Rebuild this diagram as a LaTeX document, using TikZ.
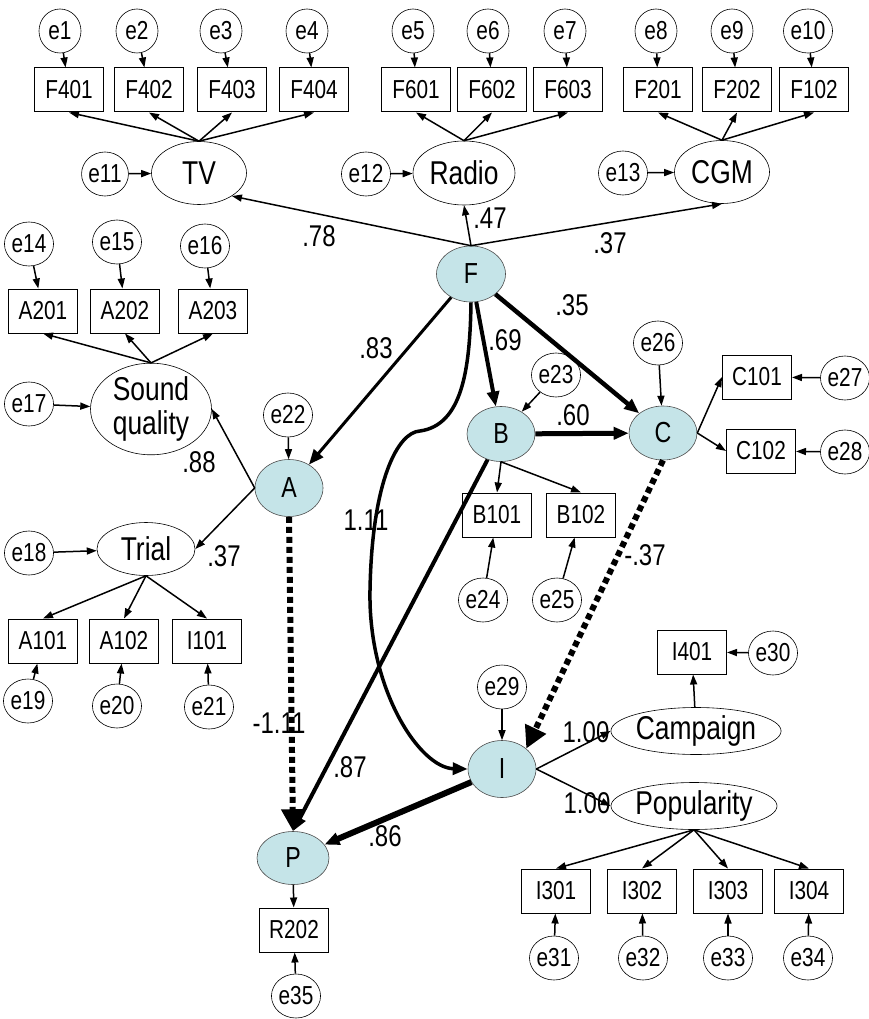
\documentclass[tikz,border=0pt]{standalone}
\usepackage{fontspec}
\setmainfont{Liberation Sans}[FakeStretch=0.8]
\usetikzlibrary{shapes.geometric,arrows.meta,calc}
\definecolor{latblue}{RGB}{197,228,232}
\begin{document}
\begin{tikzpicture}[x=1pt,y=-1pt,
  err/.style={ellipse,draw,line width=0.6pt,minimum width=42pt,minimum height=44pt,inner sep=0pt,font=\fontsize{26}{26}\selectfont},
  obs/.style={rectangle,draw,line width=1pt,minimum width=69pt,minimum height=44pt,inner sep=0pt,font=\fontsize{26}{26}\selectfont},
  lv/.style 2 args={ellipse,draw,line width=0.6pt,minimum width=#1,minimum height=#2,inner sep=0pt,align=center,font=\fontsize{33}{33}\selectfont},
  st/.style 2 args={ellipse,draw=black!70,fill=latblue,line width=0.6pt,minimum width=#1,minimum height=#2,inner sep=0pt,font=\fontsize{29}{29}\selectfont},
  lab/.style={font=\fontsize{30}{30}\selectfont,inner sep=0pt},
  arr/.style={line width=1.5pt,-{Triangle[length=10pt,width=7pt]}},
  thk/.style={line width=#1,-{Triangle[length=15pt,width=12pt]}},
  dsh/.style={line width=6pt,dash pattern=on 6pt off 4pt,-{Triangle[length=22pt,width=22pt]}}
]
\useasboundingbox (0,0) rectangle (868,1019);

% top error terms
\foreach \n/\x in {1/60,2/137,3/221,4/307,5/413,6/488,7/565,8/656,9/732,10/808}
  \node[err] (e\n) at (\x,31) {e\n};
% top indicators
\foreach \n/\x in {F401/69,F402/149,F403/232,F404/314,F601/416,F602/492,F603/568,F201/658,F202/737,F102/814}
  \node[obs] (\n) at (\x,90) {\n};

\node[lv={95pt}{63pt}] (TV) at (199,173) {TV};
\node[lv={102pt}{64pt}] (Radio) at (464,173) {Radio};
\node[lv={95pt}{63pt}] (CGM) at (722,172) {CGM};
\node[err] (e11) at (105,174) {e11};
\node[err] (e12) at (366,174) {e12};
\node[err] (e13) at (623,173) {e13};

\node[st={69pt}{56pt}] (F) at (471,274) {F};

\node[err] (e14) at (29,244) {e14};
\node[err] (e15) at (117,242) {e15};
\node[err] (e16) at (205,246) {e16};
\node[obs] (A201) at (43,311) {A201};
\node[obs] (A202) at (125,311) {A202};
\node[obs] (A203) at (213,311) {A203};

\node[err] (e26) at (658,343) {e26};
\node[err] (e23) at (556,375) {e23};
\node[obs] (C101) at (757,377) {C101};
\node[obs] (C102) at (761,451) {C102};
\node[err] (e27) at (845,378) {e27};
\node[err] (e28) at (845,452) {e28};

\node[lv={121pt}{72pt},font=\fontsize{33}{34}\selectfont] (SQ) at (151,409) {Sound\\quality};
\node[err] (e17) at (29,404) {e17};
\node[err] (e22) at (288,415) {e22};

\node[st={68pt}{55pt}] (B) at (501,434) {B};
\node[st={68pt}{54pt}] (C) at (663,433) {C};
\node[st={68pt}{57pt}] (A) at (289,488) {A};

\node[obs] (B101) at (497,515) {B101};
\node[obs] (B102) at (581,515) {B102};

\node[lv={98pt}{53pt}] (Trial) at (146,549) {Trial};
\node[err] (e18) at (29,553) {e18};

\node[err] (e24) at (483,600) {e24};
\node[err] (e25) at (557,600) {e25};

\node[obs] (A101) at (43,641) {A101};
\node[obs] (A102) at (124,641) {A102};
\node[obs] (I101) at (207,641) {I101};
\node[err] (e19) at (28,701) {e19};
\node[err] (e20) at (117,706) {e20};
\node[err] (e21) at (209,707) {e21};

\node[obs] (I401) at (692,652) {I401};
\node[err] (e30) at (773,653) {e30};
\node[err] (e29) at (502,687) {e29};

\node[lv={132pt}{47pt}] (Camp) at (696,731) {Campaign};
\node[st={68pt}{57pt}] (I) at (502,769) {I};
\node[lv={132pt}{47pt}] (Pop) at (694,806) {Popularity};
\node[st={72pt}{53pt}] (P) at (293,858) {P};

\foreach \n/\x in {1/556,2/642,3/728,4/809}
  \node[obs] (I30\n) at (\x,891) {I30\n};
\foreach \n/\x in {31/554,32/643,33/728,34/808}
  \node[err] (e\n) at (\x,958) {e\n};
\node[obs] (R202) at (294,930) {R202};
\node[err] (e35) at (296,996) {e35};

% labels
\node[lab] (l78) at (319,236) {.78};
\node[lab] (l47) at (490,218) {.47};
\node[lab] (l37a) at (610,243) {.37};
\node[lab] (l35) at (572,305) {.35};
\node[lab] (l83) at (376,348) {.83};
\node[lab] (l69) at (505,340) {.69};
\node[lab] (l60) at (573,415) {.60};
\node[lab] (l88) at (199,462) {.88};
\node[lab] (l37b) at (224,556) {.37};
\node[lab] (l111) at (366,520) {1.11};
\node[lab] (lm37) at (645,555) {-.37};
\node[lab] (lm111) at (279,723) {-1.11};
\node[lab] (l100a) at (586,732) {1.00};
\node[lab] (l87) at (350,767) {.87};
\node[lab] (l100b) at (587,803) {1.00};
\node[lab] (l86) at (385,836) {.86};

% error arrows top
\foreach \e/\b in {e1/F401,e2/F402,e3/F403,e4/F404,e5/F601,e6/F602,e7/F603,e8/F201,e9/F202,e10/F102}
  \draw[arr] (\e) -- (\b);
\foreach \b in {F401,F402,F403,F404} \draw[arr] (TV.north) -- (\b.south);
\foreach \b in {F601,F602,F603} \draw[arr] (Radio.north) -- (\b.south);
\foreach \b in {F201,F202,F102} \draw[arr] (CGM.north) -- (\b.south);
\draw[arr] (e11) -- (TV);
\draw[arr] (e12) -- (Radio);
\draw[arr] (e13) -- (CGM);

\draw[arr] (F.north) -- (TV.-35);
\draw[arr] (F.north) -- (Radio.south);
\draw[arr] (F.north) -- (CGM.south);

% sound quality
\foreach \e/\b in {e14/A201,e15/A202,e16/A203} \draw[arr] (\e) -- (\b);
\foreach \b in {A201,A202,A203} \draw[arr] (SQ.north) -- (\b.south);
\draw[arr] (e17) -- (SQ);
\draw[arr] (A.west) -- (SQ.east);
\draw[arr] (A.west) -- (Trial.east);
\draw[arr] (e22) -- (A);

% trial
\draw[arr] (e18) -- (Trial);
\foreach \b in {A101,A102,I101} \draw[arr] (Trial.south) -- (\b.north);
\foreach \e/\b in {e19/A101,e20/A102,e21/I101} \draw[arr] (\e) -- (\b);

% structural
\draw[thk=3pt] (F) -- (A);
\draw[thk=4pt] (F) -- (B);
\draw[thk=4.5pt] (F) -- (C);
\draw[thk=5pt] (B) -- (C);
\draw[thk=3.5pt] (F.south) .. controls (470,370) and (462,425) .. (420,431)
  .. controls (398,432) and (372,480) .. (370,590)
  .. controls (368,690) and (420,768) .. (I.west);
\draw[thk=4pt] (B) -- (P.north);
\draw[thk=6pt] (I) -- (P);
\draw[dsh] (A.south) -- (P.north);
\draw[dsh] (C.south) -- (I.north east);

\draw[arr] (e23) -- (B);
\draw[arr] (e26) -- (C);
\draw[arr] (C.east) -- (C101.west);
\draw[arr] (C.east) -- (C102.west);
\draw[arr] (e27) -- (C101);
\draw[arr] (e28) -- (C102);
\draw[arr] (B.south) -- (B101.north);
\draw[arr] (B.south) -- (B102.north);
\draw[arr] (e24) -- (B101);
\draw[arr] (e25) -- (B102);

% I block
\draw[arr] (e29) -- (I);
\draw[arr] (I.east) -- (Camp.west);
\draw[arr] (I.east) -- (Pop.west);
\draw[arr] (Camp) -- (I401);
\draw[arr] (e30) -- (I401);
\foreach \n in {1,2,3,4} \draw[arr] (Pop.south) -- (I30\n.north);
\foreach \n/\b in {31/I301,32/I302,33/I303,34/I304} \draw[arr] (e\n) -- (\b);

\draw[arr] (P) -- (R202);
\draw[arr] (e35) -- (R202);
\end{tikzpicture}
\end{document}
